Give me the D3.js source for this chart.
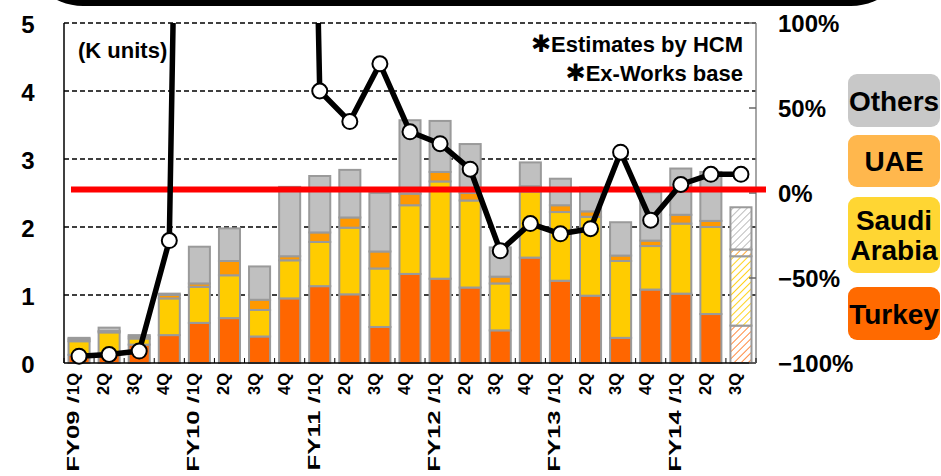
<!DOCTYPE html>
<meta charset="utf-8">
<head>
  <title>Quarterly shipments by destination</title>
</head>

<style>
body {
  margin: 0;
  background: #fff;
}

svg {
  display: block;
  font-family: "Liberation Sans", Arial, sans-serif;
  font-weight: bold;
}

.grid line {
  stroke: #000;
  stroke-width: 1.5;
  stroke-dasharray: 5,3;
}

.bars rect {
  stroke: #9a9a9a;
  stroke-width: 2;
}

.growth path {
  fill: none;
  stroke: #000;
  stroke-width: 5.5;
  stroke-linejoin: round;
}

.growth circle {
  fill: #fff;
  stroke: #000;
  stroke-width: 2;
}

.star {
  font-family: "DejaVu Sans", sans-serif;
}
</style>

<body>
  <svg width="941" height="476"></svg>

  <script src="https://cdnjs.cloudflare.com/ajax/libs/d3/7.8.5/d3.min.js"></script>

  <script>
var quarters = ['1Q', '2Q', '3Q', '4Q', '1Q', '2Q', '3Q', '4Q', '1Q', '2Q', '3Q', '4Q',
  '1Q', '2Q', '3Q', '4Q', '1Q', '2Q', '3Q', '4Q', '1Q', '2Q', '3Q'];
var fiscalYears = ['FY09', '', '', '', 'FY10', '', '', '', 'FY11', '', '', '',
  'FY12', '', '', '', 'FY13', '', '', '', 'FY14', '', ''];

// K units, stacked from the bottom
var turkey = [0.12, 0.15, 0.27, 0.41, 0.59, 0.66, 0.39, 0.95, 1.13, 1.01, 0.53, 1.31,
  1.24, 1.11, 0.48, 1.55, 1.21, 0.99, 0.37, 1.08, 1.02, 0.72, 0.55];
var saudi = [0.20, 0.30, 0.09, 0.54, 0.53, 0.63, 0.39, 0.56, 0.65, 0.98, 0.86, 1.01,
  1.43, 1.28, 0.69, 0.97, 1.01, 1.16, 1.13, 0.64, 1.03, 1.28, 1.02];
var uae = [0.03, 0.02, 0.03, 0.05, 0.05, 0.21, 0.15, 0.06, 0.14, 0.15, 0.25, 0.17,
  0.14, 0.11, 0.10, 0.08, 0.10, 0.08, 0.08, 0.08, 0.13, 0.09, 0.10];
var others = [0.02, 0.05, 0.02, 0.02, 0.54, 0.48, 0.49, 1.02, 0.83, 0.70, 0.86, 1.08,
  0.75, 0.72, 0.43, 0.35, 0.39, 0.35, 0.49, 0.71, 0.68, 0.72, 0.62];
var estimated = [false, false, false, false, false, false, false, false, false, false, false, false,
  false, false, false, false, false, false, false, false, false, false, true];

// year-on-year change, %
var growth = [-96, -95, -93, -28, 1000, 1100, 1000, 900, 60, 42, 76, 36,
  29, 14, -34, -18, -24, -21, 24, -16, 5, 11, 11];
var refLine = 2;

var leftTicks = [0, 1, 2, 3, 4, 5];
var rightTicks = [-100, -50, 0, 50, 100];
var notes = ['Estimates by HCM', 'Ex-Works base'];

var series = [
  {key: 'turkey', values: turkey, fill: '#ff6600', hatch: '#ff8a40'},
  {key: 'saudi', values: saudi, fill: '#ffcc00', hatch: '#ffd21f'},
  {key: 'uae', values: uae, fill: '#ff9900', hatch: '#ffa733'},
  {key: 'others', values: others, fill: '#c0c0c0', hatch: '#bdbdbd'}
];

var legendItems = [
  {lines: ['Others'], fill: '#c8c8c8', y0: 74, y1: 127},
  {lines: ['UAE'], fill: '#ffb74d', y0: 135, y1: 187},
  {lines: ['Saudi', 'Arabia'], fill: '#ffd633', y0: 197, y1: 273},
  {lines: ['Turkey'], fill: '#ff6a00', y0: 287, y1: 340}
];

var svg = d3.select('svg');
var plotL = 64, plotR = 756, plotT = 23, plotB = 363;

var x = d3.scaleBand()
  .domain(d3.range(quarters.length))
  .range([plotL, plotR])
  .paddingInner(0.3)
  .paddingOuter(0.15);
var y = d3.scaleLinear().domain([0, 5]).range([plotB, plotT]);
var yR = d3.scaleLinear().domain([-100, 100]).range([plotB, plotT]);

// black banner at the very top
svg.append('rect')
  .attr('x', 24).attr('y', -120)
  .attr('width', 886).attr('height', 126)
  .attr('rx', 59)
  .attr('fill', '#000');

// hatch patterns for the estimated quarter
var defs = svg.append('defs');
series.forEach(function(s) {
  var p = defs.append('pattern')
    .attr('id', 'hatch-' + s.key)
    .attr('patternUnits', 'userSpaceOnUse')
    .attr('width', 5).attr('height', 5)
    .attr('patternTransform', 'rotate(45)');
  p.append('rect').attr('width', 5).attr('height', 5).attr('fill', '#fff');
  p.append('line')
    .attr('x1', 0).attr('y1', 0).attr('x2', 0).attr('y2', 5)
    .attr('stroke', s.hatch).attr('stroke-width', 2);
});

defs.append('clipPath').attr('id', 'plot-clip')
  .append('rect')
  .attr('x', plotL - 10).attr('y', plotT)
  .attr('width', plotR - plotL + 20).attr('height', plotB - plotT + 20);

// grid
svg.append('g').attr('class', 'grid')
  .selectAll('line')
  .data(leftTicks.filter(function(d) { return d > 0; }))
  .enter().append('line')
  .attr('x1', plotL).attr('x2', plotR)
  .attr('y1', function(d) { return y(d); })
  .attr('y2', function(d) { return y(d); });

// stacked bars
var rows = quarters.map(function(q, i) {
  return {turkey: turkey[i], saudi: saudi[i], uae: uae[i], others: others[i]};
});
var stacked = d3.stack().keys(series.map(function(s) { return s.key; }))(rows);

svg.append('g').attr('class', 'bars')
  .selectAll('g')
  .data(stacked)
  .enter().append('g')
  .each(function(layer, li) {
    var s = series[li];
    d3.select(this).selectAll('rect')
      .data(layer)
      .enter().append('rect')
      .attr('x', function(d, i) { return x(i); })
      .attr('width', x.bandwidth())
      .attr('y', function(d) { return y(d[1]); })
      .attr('height', function(d) { return y(d[0]) - y(d[1]); })
      .attr('fill', function(d, i) { return estimated[i] ? 'url(#hatch-' + s.key + ')' : s.fill; });
  });

// axis lines
svg.append('line')
  .attr('x1', plotL).attr('x2', plotL).attr('y1', plotT).attr('y2', plotB)
  .attr('stroke', '#000').attr('stroke-width', 1.5);
svg.append('line')
  .attr('x1', plotR).attr('x2', plotR).attr('y1', plotT).attr('y2', plotB)
  .attr('stroke', '#888').attr('stroke-width', 1.5);
svg.append('line')
  .attr('x1', plotL).attr('x2', plotR).attr('y1', plotB).attr('y2', plotB)
  .attr('stroke', '#000').attr('stroke-width', 1.5);

// small ticks between categories
svg.append('g')
  .selectAll('line')
  .data(d3.range(quarters.length + 1))
  .enter().append('line')
  .attr('x1', function(i) { return plotL + i * x.step(); })
  .attr('x2', function(i) { return plotL + i * x.step(); })
  .attr('y1', plotB).attr('y2', plotB - 5)
  .attr('stroke', '#000').attr('stroke-width', 1);

// right axis ticks
svg.append('g')
  .selectAll('line')
  .data(rightTicks)
  .enter().append('line')
  .attr('x1', plotR - 7).attr('x2', plotR)
  .attr('y1', function(d) { return yR(d); })
  .attr('y2', function(d) { return yR(d); })
  .attr('stroke', '#666').attr('stroke-width', 1.5);

// red reference line
svg.append('line')
  .attr('x1', plotL + 7).attr('x2', plotR + 10)
  .attr('y1', yR(refLine)).attr('y2', yR(refLine))
  .attr('stroke', '#ff0000').attr('stroke-width', 6);

// growth line
var g = svg.append('g').attr('class', 'growth').attr('clip-path', 'url(#plot-clip)');
g.append('path')
  .datum(growth)
  .attr('d', d3.line()
    .x(function(d, i) { return x(i) + x.bandwidth() / 2; })
    .y(function(d) { return yR(d); }));
g.selectAll('circle')
  .data(growth.map(function(v, i) { return {v: v, i: i}; })
    .filter(function(d) { return d.v <= 100; }))
  .enter().append('circle')
  .attr('cx', function(d) { return x(d.i) + x.bandwidth() / 2; })
  .attr('cy', function(d) { return yR(d.v); })
  .attr('r', 7.5);

// left labels
svg.append('g')
  .selectAll('text')
  .data(leftTicks)
  .enter().append('text')
  .attr('x', 28)
  .attr('y', function(d) { return y(d); })
  .attr('dy', '0.4em')
  .attr('text-anchor', 'middle')
  .attr('font-size', 24)
  .text(function(d) { return d; });

// right labels
svg.append('g')
  .selectAll('text')
  .data(rightTicks)
  .enter().append('text')
  .attr('x', 778)
  .attr('y', function(d) { return yR(d); })
  .attr('dy', '0.38em')
  .attr('font-size', 24)
  .text(function(d) { return (d < 0 ? '−' : '') + Math.abs(d) + '%'; });

// x labels: quarter, plus a stretched fiscal-year prefix
var xl = svg.append('g')
  .selectAll('g')
  .data(quarters)
  .enter().append('g')
  .attr('transform', function(d, i) {
    return 'translate(' + (x(i) + x.bandwidth() / 2) + ',' + (plotB + 10) + ') rotate(-90)';
  });

xl.append('text')
  .attr('class', 'q')
  .attr('text-anchor', 'end')
  .attr('font-size', 16.5)
  .text(function(d) { return d; });

xl.each(function(d, i) {
  if (!fiscalYears[i]) return;
  var qw = d3.select(this).select('.q').node().getComputedTextLength();
  d3.select(this).append('text')
    .attr('transform', 'translate(' + (-qw - 1) + ',0) scale(1.56,1)')
    .attr('text-anchor', 'end')
    .attr('font-size', 16.5)
    .text(fiscalYears[i] + ' /');
});

// notes
svg.append('text')
  .attr('x', 78).attr('y', 58)
  .attr('font-size', 22)
  .text('(K units)');

var nt = svg.append('g')
  .selectAll('text')
  .data(notes)
  .enter().append('text')
  .attr('x', 743)
  .attr('y', function(d, i) { return 52 + i * 29; })
  .attr('text-anchor', 'end')
  .attr('font-size', 22);
nt.append('tspan').attr('class', 'star').attr('font-size', 24).text('✱');
nt.append('tspan').text(function(d) { return d; });

// legend
var lg = svg.append('g')
  .selectAll('g')
  .data(legendItems)
  .enter().append('g');

lg.append('rect')
  .attr('x', 848)
  .attr('y', function(d) { return d.y0; })
  .attr('width', 92)
  .attr('height', function(d) { return d.y1 - d.y0; })
  .attr('rx', 9)
  .attr('fill', function(d) { return d.fill; });

lg.each(function(d) {
  var mid = (d.y0 + d.y1) / 2;
  var n = d.lines.length;
  d3.select(this).selectAll('text')
    .data(d.lines)
    .enter().append('text')
    .attr('x', 894)
    .attr('y', function(t, j) { return mid + (j - (n - 1) / 2) * 30; })
    .attr('dy', '0.36em')
    .attr('text-anchor', 'middle')
    .attr('font-size', 28)
    .text(function(t) { return t; });
});
  </script>
</body>
</html>
